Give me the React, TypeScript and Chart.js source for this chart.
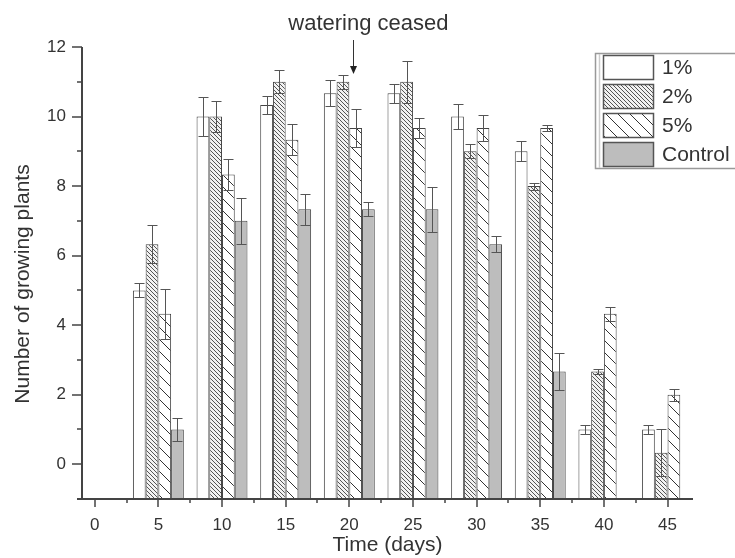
import React, { useEffect, useRef } from 'react';
import { Chart, registerables } from 'chart.js';

Chart.register(...registerables);

const days = [5, 10, 15, 20, 25, 30, 35, 40, 45];
const seriesNames = ['1%', '2%', '5%', 'Control'];
const p1 = [5, 10, 10.33, 10.67, 10.67, 10, 9, 1, 1];
const p1Err = [0.2, 0.55, 0.27, 0.38, 0.27, 0.37, 0.29, 0.12, 0.13];
const p2 = [6.33, 10, 11, 11, 11, 9, 8, 2.67, 0.33];
const p2Err = [0.55, 0.45, 0.33, 0.2, 0.6, 0.2, 0.1, 0.07, 0.67];
const p5 = [4.33, 8.33, 9.33, 9.67, 9.67, 9.67, 9.67, 4.33, 2];
const p5Err = [0.72, 0.45, 0.45, 0.55, 0.3, 0.37, 0.1, 0.2, 0.17];
const ctrl = [1, 7, 7.33, 7.33, 7.33, 6.33, 2.67, null, null];
const ctrlErr = [0.33, 0.67, 0.45, 0.2, 0.65, 0.22, 0.53, null, null];

const xMajorTicks = [0, 5, 10, 15, 20, 25, 30, 35, 40, 45];
const xMinorTicks = [2.5, 7.5, 12.5, 17.5, 22.5, 27.5, 32.5, 37.5, 42.5];
const yMajorTicks = [0, 2, 4, 6, 8, 10, 12];
const yMinorTicks = [1, 3, 5, 7, 9, 11];
const xTitle = 'Time (days)';
const yTitle = 'Number of growing plants';
const annotationText = 'watering ceased';
const annotationX = 20.3;
const annotationTextX = 21.5;

const FONT = "'Liberation Sans', Arial, sans-serif";
const TEXT = '#333';
const AXIS = '#444';

function makePattern(size: number, bg: string, fg: string, lw: number) {
  const c = document.createElement('canvas');
  c.width = size;
  c.height = size;
  const g = c.getContext('2d')!;
  g.fillStyle = bg;
  g.fillRect(0, 0, size, size);
  g.strokeStyle = fg;
  g.lineWidth = lw;
  g.beginPath();
  g.moveTo(-1, -1);
  g.lineTo(size + 1, size + 1);
  g.moveTo(-1, size - 1);
  g.lineTo(1, size + 1);
  g.moveTo(size - 1, -1);
  g.lineTo(size + 1, 1);
  g.stroke();
  return g.createPattern(c, 'repeat')!;
}

export default function App() {
  const ref = useRef<HTMLCanvasElement>(null);

  useEffect(() => {
    const canvas = ref.current!;
    const dense = makePattern(4, '#f2f2f2', '#555', 1);
    const sparse = makePattern(12, '#ffffff', '#333', 1);
    const fills: any[] = ['#ffffff', dense, sparse, '#bdbdbd'];
    const values = [p1, p2, p5, ctrl];
    const errors = [p1Err, p2Err, p5Err, ctrlErr];

    const overlay = {
      id: 'overlay',
      afterDatasetsDraw(chart: any) {
        const { ctx } = chart;
        const y = chart.scales.y;
        ctx.save();
        ctx.strokeStyle = '#555';
        ctx.lineWidth = 1;
        values.forEach((vals, di) => {
          const meta = chart.getDatasetMeta(di);
          meta.data.forEach((bar: any, i: number) => {
            const v = vals[i];
            const e = errors[di][i];
            if (v == null || e == null) return;
            const cx = Math.round(bar.x) + 0.5;
            const yt = Math.round(y.getPixelForValue(v + e)) + 0.5;
            const yb = Math.round(y.getPixelForValue(v - e)) + 0.5;
            ctx.beginPath();
            ctx.moveTo(cx, yt);
            ctx.lineTo(cx, yb);
            ctx.moveTo(cx - 5, yt);
            ctx.lineTo(cx + 5, yt);
            ctx.moveTo(cx - 5, yb);
            ctx.lineTo(cx + 5, yb);
            ctx.stroke();
          });
        });
        ctx.restore();
      },
      afterDraw(chart: any) {
        const { ctx, chartArea: a } = chart;
        const x = chart.scales.x;
        const y = chart.scales.y;
        ctx.save();
        // axes
        ctx.strokeStyle = AXIS;
        ctx.lineWidth = 2;
        ctx.beginPath();
        ctx.moveTo(a.left - 5, a.bottom);
        ctx.lineTo(a.right, a.bottom);
        ctx.moveTo(a.left, a.top);
        ctx.lineTo(a.left, a.bottom);
        ctx.stroke();
        // ticks
        ctx.lineWidth = 1.5;
        ctx.beginPath();
        xMajorTicks.forEach((t) => {
          const px = Math.round(x.getPixelForValue(t));
          ctx.moveTo(px, a.bottom);
          ctx.lineTo(px, a.bottom + 8);
        });
        xMinorTicks.forEach((t) => {
          const px = Math.round(x.getPixelForValue(t));
          ctx.moveTo(px, a.bottom);
          ctx.lineTo(px, a.bottom + 4);
        });
        yMajorTicks.forEach((t) => {
          const py = Math.round(y.getPixelForValue(t));
          ctx.moveTo(a.left - 10, py);
          ctx.lineTo(a.left, py);
        });
        yMinorTicks.forEach((t) => {
          const py = Math.round(y.getPixelForValue(t));
          ctx.moveTo(a.left - 5, py);
          ctx.lineTo(a.left, py);
        });
        ctx.stroke();
        // titles
        ctx.fillStyle = TEXT;
        ctx.font = `21px ${FONT}`;
        ctx.textAlign = 'center';
        ctx.textBaseline = 'middle';
        ctx.fillText(xTitle, (a.left + a.right) / 2, 545);
        ctx.save();
        ctx.translate(23, 284);
        ctx.rotate(-Math.PI / 2);
        ctx.fillText(yTitle, 0, 0);
        ctx.restore();
        // annotation
        ctx.font = `22px ${FONT}`;
        ctx.fillText(annotationText, x.getPixelForValue(annotationTextX), 24);
        const ax = Math.round(x.getPixelForValue(annotationX)) + 0.5;
        ctx.strokeStyle = '#333';
        ctx.lineWidth = 1;
        ctx.beginPath();
        ctx.moveTo(ax, 40);
        ctx.lineTo(ax, 68);
        ctx.stroke();
        ctx.fillStyle = '#222';
        ctx.beginPath();
        ctx.moveTo(ax - 3.5, 66);
        ctx.lineTo(ax + 3.5, 66);
        ctx.lineTo(ax, 74);
        ctx.closePath();
        ctx.fill();
        // legend
        ctx.strokeStyle = '#999';
        ctx.lineWidth = 1.5;
        ctx.fillStyle = '#fff';
        ctx.fillRect(595, 53, 150, 115);
        ctx.strokeRect(595.5, 53.5, 150, 115);
        ctx.beginPath();
        ctx.moveTo(599.5, 54);
        ctx.lineTo(599.5, 168);
        ctx.strokeStyle = '#ccc';
        ctx.stroke();
        seriesNames.forEach((name, i) => {
          const top = 55 + i * 29;
          ctx.fillStyle = fills[i];
          ctx.fillRect(603, top, 51, 25);
          ctx.strokeStyle = '#555';
          ctx.lineWidth = 1.5;
          ctx.strokeRect(603.5, top + 0.5, 50, 24);
          ctx.fillStyle = TEXT;
          ctx.font = `21px ${FONT}`;
          ctx.textAlign = 'left';
          ctx.textBaseline = 'middle';
          ctx.fillText(name, 662, top + 13);
        });
        ctx.restore();
      },
    };

    const chart = new Chart(canvas, {
      type: 'bar',
      data: {
        labels: days,
        datasets: seriesNames.map((name, di) => ({
          label: name,
          data: days.map((d, i) => ({ x: d, y: values[di][i] })),
          backgroundColor: fills[di],
          borderColor: '#444',
          borderWidth: 1,
          base: -1,
          barPercentage: 1,
          categoryPercentage: 0.8,
        })) as any,
      },
      options: {
        animation: false,
        responsive: false,
        layout: { padding: { top: 47, right: 42, left: 0, bottom: 0 } },
        plugins: { legend: { display: false }, tooltip: { enabled: false } },
        scales: {
          x: {
            type: 'linear',
            min: -1,
            max: 47,
            offset: false,
            grid: { display: false, drawTicks: false },
            border: { display: false },
            afterBuildTicks: (s: any) => {
              s.ticks = xMajorTicks.map((v) => ({ value: v }));
            },
            afterFit: (s: any) => {
              s.height = 59;
            },
            ticks: {
              padding: 16,
              color: TEXT,
              font: { family: FONT, size: 17 },
              maxRotation: 0,
              autoSkip: false,
            },
          },
          y: {
            type: 'linear',
            min: -1,
            max: 12,
            grid: { display: false, drawTicks: false },
            border: { display: false },
            afterBuildTicks: (s: any) => {
              s.ticks = yMajorTicks.map((v) => ({ value: v }));
            },
            afterFit: (s: any) => {
              s.width = 82;
            },
            ticks: {
              padding: 16,
              color: TEXT,
              font: { family: FONT, size: 17 },
            },
          },
        },
      } as any,
      plugins: [overlay],
    });
    return () => chart.destroy();
  }, []);

  return (
    <div style={{ position: 'fixed', left: 0, top: 0, width: 735, height: 558, background: '#fff' }}>
      <canvas ref={ref} width={735} height={558} style={{ display: 'block' }} />
    </div>
  );
}
